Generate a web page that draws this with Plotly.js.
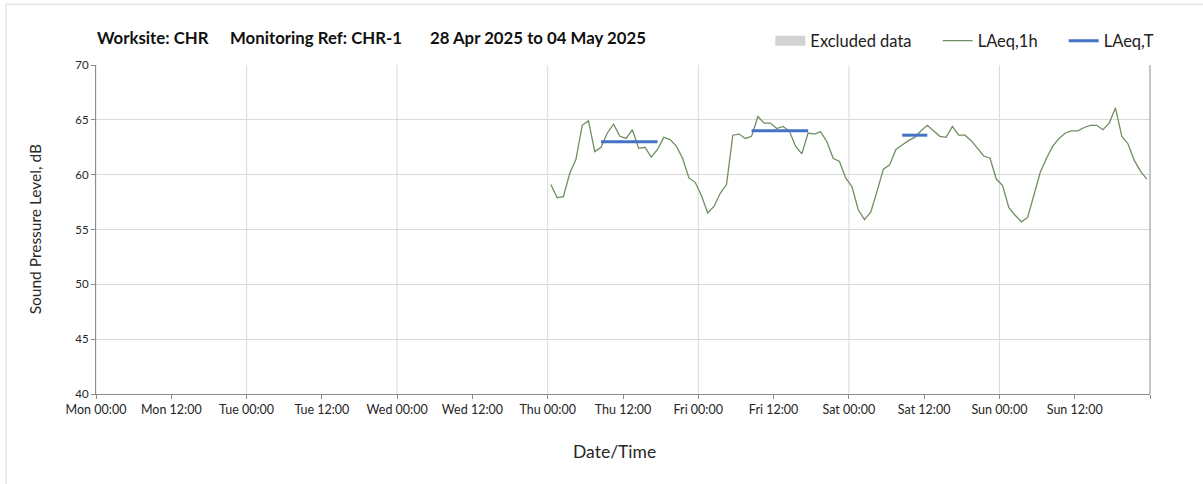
<!DOCTYPE html>
<html>
<head>
<meta charset="utf-8">
<script src="https://cdn.plot.ly/plotly-3.0.1.min.js"></script>
<style>html,body{margin:0;padding:0;background:#fff;}#chart{width:1203px;height:484px;}</style>
</head>
<body>
<div id="chart"></div>
<script>
// ---- data ----
var titleParts = ["Worksite: CHR", "Monitoring Ref: CHR-1", "28 Apr 2025 to 04 May 2025"];
var seriesNames = ["Excluded data", "LAeq,1h", "LAeq,T"];
var tickLabels = ["Mon 00:00","Mon 12:00","Tue 00:00","Tue 12:00","Wed 00:00","Wed 12:00",
                  "Thu 00:00","Thu 12:00","Fri 00:00","Fri 12:00","Sat 00:00","Sat 12:00",
                  "Sun 00:00","Sun 12:00",""];
var weekStart = "2025-04-28T00:00:00";
var firstReading = "2025-05-01T00:30:00";   // hourly LAeq,1h values plotted from here
var laeq1h = [
  59.1,57.9,58.0,60.1,61.4,64.5,64.9,62.1,62.5,63.8,64.6,63.5,
  63.3,64.1,62.4,62.5,61.6,62.3,63.4,63.2,62.6,61.5,59.7,59.3,
  58.1,56.5,57.1,58.3,59.1,63.6,63.7,63.3,63.5,65.3,64.7,64.7,
  64.2,64.4,64.0,62.6,61.9,63.8,63.7,63.9,63.0,61.5,61.2,59.7,
  58.9,56.8,55.9,56.6,58.5,60.5,60.9,62.3,62.7,63.1,63.4,64.0,
  64.5,64.0,63.5,63.4,64.4,63.6,63.6,63.1,62.4,61.7,61.5,59.6,
  59.0,57.0,56.3,55.7,56.1,58.1,60.2,61.5,62.6,63.3,63.8,64.0,
  64.0,64.3,64.5,64.5,64.1,64.7,66.1,63.5,62.8,61.3,60.3,59.6
];
var laeqTStart = ["2025-05-01T08:30:00","2025-05-02T08:30:00","2025-05-03T08:30:00"];
var laeqTEnd   = ["2025-05-01T17:30:00","2025-05-02T17:30:00","2025-05-03T12:30:00"];
var laeqTValue = [63.0, 64.0, 63.6];
var excludedX = [weekStart];   // no excluded periods in this week
var excludedY = [null];

// ---- build ----
function fmt(ms){ var d=new Date(ms); return d.toISOString().slice(0,19); }
function ms(s){ return Date.parse(s+"Z"); }
var H = 3600000;
var x1h = laeq1h.map(function(v,i){ return fmt(ms(firstReading)+i*H); });
var tickVals = tickLabels.map(function(t,i){ return fmt(ms(weekStart)+i*12*H); });
var xT=[], yT=[];
laeqTValue.forEach(function(v,i){ xT.push(laeqTStart[i],laeqTEnd[i],null); yT.push(v,v,null); });
var pad = '&nbsp;&nbsp;&nbsp;&nbsp;&nbsp;';

var traces = [
  {type:'scatter', mode:'lines', name:seriesNames[0]+pad, x:excludedX, y:excludedY,
   line:{color:'#d3d3d3', width:10}, hoverinfo:'skip'},
  {type:'scatter', mode:'lines', name:seriesNames[1]+pad, x:x1h, y:laeq1h,
   line:{color:'#6f8f60', width:1.3}},
  {type:'scatter', mode:'lines', name:seriesNames[2], x:xT, y:yT,
   line:{color:'#4472c4', width:3}, connectgaps:false}
];

var shapes = [];
for (var d=0; d<=6; d++){
  var xd = fmt(ms(weekStart)+d*24*H);
  shapes.push({type:'line', xref:'x', yref:'paper', x0:xd, x1:xd, y0:0, y1:1,
               line:{color:'#d9d9d9', width:1}, layer:'below'});
}
shapes.push({type:'line', xref:'paper', yref:'paper', x0:1, x1:1, y0:0, y1:1,
             line:{color:'#8c8c8c', width:1}});
// page frame
shapes.push({type:'line', xref:'paper', yref:'paper', x0:-0.0854, x1:1.1, y0:1.185, y1:1.185,
             line:{color:'#d9d9d9', width:1}});
shapes.push({type:'line', xref:'paper', yref:'paper', x0:-0.0854, x1:-0.0854, y0:1.185, y1:-0.3,
             line:{color:'#d9d9d9', width:1}});

var tf = {family:'Lato, sans-serif', size:16.8, color:'#111'};
var annotations = [
  {text:'<b>'+titleParts[0]+'</b>', x:-0.001, y:1.085, xref:'paper', yref:'paper', xanchor:'left', yanchor:'middle', showarrow:false, font:tf},
  {text:'<b>'+titleParts[1]+'</b>', x:0.1256, y:1.085, xref:'paper', yref:'paper', xanchor:'left', yanchor:'middle', showarrow:false, font:tf},
  {text:'<b>'+titleParts[2]+'</b>', x:0.315, y:1.085, xref:'paper', yref:'paper', xanchor:'left', yanchor:'middle', showarrow:false, font:tf},
  {text:'Sound Pressure Level, dB', x:-0.058, y:0.5, xref:'paper', yref:'paper', xanchor:'center', yanchor:'middle', textangle:-90, showarrow:false,
   font:{family:'Lato, sans-serif', size:15.5, color:'#262626'}},
  {text:'Date/Time', x:0.4915, y:-0.176, xref:'paper', yref:'paper', xanchor:'center', yanchor:'middle', showarrow:false,
   font:{family:'Lato, sans-serif', size:17.5, color:'#262626'}}
];

var layout = {
  width:1203, height:484,
  margin:{l:96, r:53, t:65, b:90, pad:0},
  paper_bgcolor:'#fff', plot_bgcolor:'#fff',
  font:{family:'Lato, sans-serif', color:'#262626'},
  showlegend:true,
  legend:{orientation:'h', x:0.6398, y:1.073, xanchor:'left', yanchor:'middle',
          font:{family:'Lato, sans-serif', size:16.5, color:'#222'}, bgcolor:'rgba(0,0,0,0)', tracegroupgap:0},
  xaxis:{type:'date', range:[weekStart, fmt(ms(weekStart)+7*24*H)], tickmode:'array',
         tickvals:tickVals, ticktext:tickLabels, showgrid:false, zeroline:false,
         showline:true, linecolor:'#8c8c8c', linewidth:1, ticks:'outside', ticklen:4,
         tickcolor:'#8c8c8c', tickfont:{family:'Lato, sans-serif', size:12.5, color:'#262626'}, tickangle:0},
  yaxis:{range:[40,70], dtick:5, tick0:40, showgrid:true, gridcolor:'#d9d9d9', gridwidth:1,
         zeroline:false, showline:true, linecolor:'#8c8c8c', linewidth:1, ticks:'outside', ticklen:4,
         tickcolor:'#8c8c8c', tickfont:{family:'Lato, sans-serif', size:11.5, color:'#262626'}},
  shapes:shapes, annotations:annotations
};
Plotly.newPlot('chart', traces, layout, {staticPlot:true, displayModeBar:false});
</script>
</body>
</html>
